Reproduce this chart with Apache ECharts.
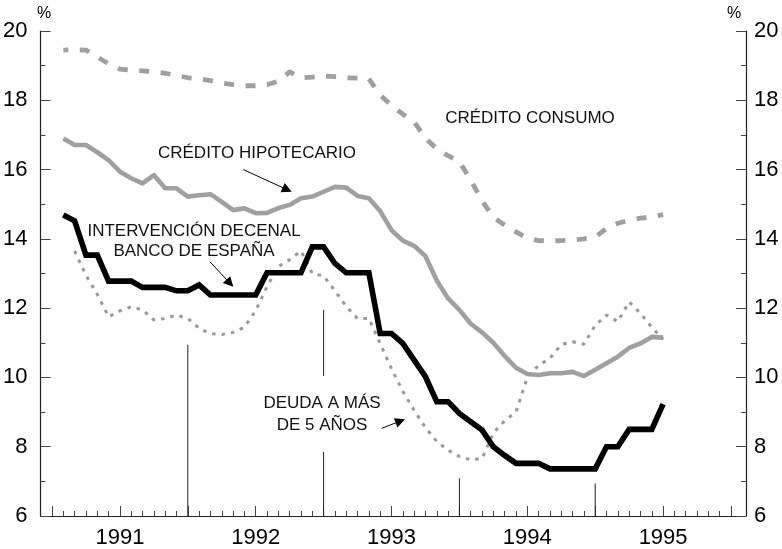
<!DOCTYPE html>
<html>
<head>
<meta charset="utf-8">
<script src="https://cdn.jsdelivr.net/npm/echarts@6/dist/echarts.min.js"></script>
<style>html,body{margin:0;padding:0;background:#fff;}#c{width:782px;height:549px;}</style>
</head>
<body>
<div id="c"></div>
<script>
// Months counted from January 1991 (0) to January 1996 (60)
const months = Array.from({length: 54}, (_, i) => i + 1);
const yearLabels = {6: '1991', 18: '1992', 30: '1993', 42: '1994', 54: '1995'};

const creditoConsumo = [19.45,19.46,19.45,19.25,19.05,18.9,18.87,18.85,18.82,18.78,18.72,18.65,18.62,18.57,18.5,18.45,18.42,18.42,18.45,18.55,18.82,18.65,18.67,18.7,18.68,18.65,18.64,18.62,18.15,17.85,17.6,17.38,16.9,16.6,16.4,16.23,15.7,15.1,14.62,14.4,14.2,14.02,13.95,13.94,13.95,13.96,14.0,14.05,14.3,14.45,14.54,14.6,14.63,14.7];

const creditoHipotecario = [16.9,16.71,16.71,16.5,16.27,15.94,15.75,15.6,15.84,15.46,15.46,15.22,15.26,15.29,15.07,14.83,14.88,14.74,14.75,14.89,14.98,15.17,15.22,15.36,15.5,15.48,15.24,15.17,14.8,14.25,13.95,13.8,13.5,12.8,12.28,11.95,11.55,11.3,11.0,10.62,10.28,10.1,10.07,10.12,10.12,10.16,10.04,10.22,10.41,10.6,10.85,10.98,11.17,11.15];

const intervencionDecenal = [14.69,14.52,13.53,13.53,12.78,12.78,12.78,12.6,12.6,12.6,12.5,12.5,12.67,12.38,12.38,12.38,12.38,12.38,13.02,13.02,13.02,13.02,13.77,13.77,13.29,13.02,13.02,13.02,11.27,11.27,10.98,10.5,10.02,9.3,9.3,8.96,8.72,8.48,8.0,7.75,7.52,7.52,7.52,7.36,7.36,7.36,7.36,7.36,8.0,8.0,8.5,8.5,8.5,9.23];

const deudaMas5 = [null,13.65,12.95,12.4,11.75,11.92,12.04,11.95,11.66,11.7,11.8,11.7,11.42,11.26,11.24,11.3,11.45,11.93,12.62,13.2,13.4,13.65,13.0,12.93,12.5,12.05,11.7,11.7,10.98,10.25,9.6,9.05,8.55,8.15,7.9,7.72,7.62,7.66,8.4,8.75,9.0,10.0,10.35,10.55,10.95,11.03,10.96,11.5,11.8,11.61,12.18,11.85,11.45,11.1];

// Year-separator lines: month, top value (they start at the axis, 6)
const separatorMonths = [12, 24, 36, 48];
const separatorTops = [10.94, 11.95, 7.09, 6.94];

const FONT = "'Liberation Sans', Arial, sans-serif";
const GRAY = '#a0a0a0';

function pairs(vals) {
  return months.map((m, i) => [m, vals[i]]).filter(d => d[1] != null);
}

const chart = echarts.init(document.getElementById('c'), null, {renderer: 'canvas'});

const yCommon = {
  type: 'value', min: 6, max: 20, interval: 2,
  axisLine: {show: true, lineStyle: {color: '#222', width: 1.2}},
  axisTick: {show: true, inside: true, length: 10, lineStyle: {color: '#444', width: 1}},
  minorTick: {show: true, splitNumber: 2, length: 5, lineStyle: {color: '#444', width: 1}},
  splitLine: {show: false},
  minorSplitLine: {show: false},
  axisLabel: {fontSize: 22, color: '#000', fontFamily: FONT}
};

const series = [
  {
    name: 'CRÉDITO CONSUMO', type: 'line', xAxisIndex: 1, yAxisIndex: 2,
    data: pairs(creditoConsumo), symbol: 'none', silent: true,
    lineStyle: {color: GRAY, width: 4.8, type: [10, 11.5], dashOffset: 5, cap: 'butt', join: 'round'},
    z: 2
  },
  {
    name: 'CRÉDITO HIPOTECARIO', type: 'line', xAxisIndex: 1, yAxisIndex: 2,
    data: pairs(creditoHipotecario), symbol: 'none', silent: true,
    lineStyle: {color: GRAY, width: 4.6, join: 'round'},
    z: 2
  },
  {
    name: 'DEUDA', type: 'line', xAxisIndex: 1, yAxisIndex: 2,
    data: pairs(deudaMas5), symbol: 'none', silent: true,
    lineStyle: {color: '#999', width: 3, type: [3.5, 6], cap: 'butt'},
    z: 2
  },
  {
    name: 'INTERVENCIÓN', type: 'line', xAxisIndex: 1, yAxisIndex: 2,
    data: pairs(intervencionDecenal), symbol: 'none', silent: true,
    lineStyle: {color: '#000', width: 5.6, join: 'miter', cap: 'butt'},
    z: 3,
    markLine: {
      silent: true, animation: false,
      symbol: ['none', 'triangle'], symbolSize: 10,
      label: {show: false},
      lineStyle: {color: '#000', width: 1, type: 'solid'},
      itemStyle: {color: '#000'},
      emphasis: {disabled: true},
      data: [
        [{coord: [16.9, 16.0]}, {coord: [20.78, 15.42]}],
        [{coord: [13.96, 13.34]}, {coord: [15.72, 12.72]}],
        [{coord: [29.13, 8.53]}, {coord: [30.78, 8.74]}]
      ]
    }
  }
];

separatorMonths.forEach((m, i) => {
  series.push({
    type: 'line', xAxisIndex: 1, yAxisIndex: 2, symbol: 'none', silent: true,
    data: [[m, 6], [m, separatorTops[i]]],
    lineStyle: {color: '#222', width: 1}, z: 1
  });
});

const textStyle = {fontSize: 17, fontFamily: FONT, fill: '#111', align: 'center', verticalAlign: 'middle'};

chart.setOption({
  animation: false,
  backgroundColor: '#fff',
  grid: [
    {left: 37, right: 36, top: 31, bottom: 33},
    {left: 52, right: 51, top: 31, bottom: 33}
  ],
  xAxis: [
    {
      gridIndex: 0, type: 'value', min: 0, max: 1,
      axisLine: {show: true, onZero: false, lineStyle: {color: '#222', width: 1.2}},
      axisTick: {show: false}, axisLabel: {show: false}, splitLine: {show: false}
    },
    {
      gridIndex: 1, type: 'value', min: 0, max: 60, interval: 6,
      axisLine: {show: false, onZero: false},
      axisTick: {show: true, inside: true, length: 10, lineStyle: {color: '#444', width: 1}},
      minorTick: {show: true, splitNumber: 6, length: 5, lineStyle: {color: '#444', width: 1}},
      splitLine: {show: false}, minorSplitLine: {show: false},
      axisLabel: {
        fontSize: 22, color: '#000', fontFamily: FONT, margin: 11,
        showMinLabel: true, showMaxLabel: true,
        formatter: v => yearLabels[v] || ''
      }
    }
  ],
  yAxis: [
    Object.assign({}, yCommon, {gridIndex: 0, position: 'left', axisLabel: Object.assign({}, yCommon.axisLabel, {margin: 13})}),
    Object.assign({}, yCommon, {gridIndex: 0, position: 'right', axisLabel: Object.assign({}, yCommon.axisLabel, {margin: 8})}),
    {gridIndex: 1, type: 'value', min: 6, max: 20, show: false, splitLine: {show: false}}
  ],
  series: series,
  graphic: [
    {type: 'text', x: 44, y: 14, style: Object.assign({}, textStyle, {text: '%', fontSize: 16, fill: '#000'})},
    {type: 'text', x: 734, y: 14, style: Object.assign({}, textStyle, {text: '%', fontSize: 16, fill: '#000'})},
    {type: 'text', x: 530, y: 118, style: Object.assign({}, textStyle, {text: 'CRÉDITO CONSUMO'})},
    {type: 'text', x: 257, y: 153, style: Object.assign({}, textStyle, {text: 'CRÉDITO HIPOTECARIO'})},
    {type: 'text', x: 194, y: 241, style: Object.assign({}, textStyle, {text: 'INTERVENCIÓN DECENAL\nBANCO DE ESPAÑA', lineHeight: 20})},
    {type: 'text', x: 322, y: 414, z: 10, style: Object.assign({}, textStyle, {text: 'DEUDA A MÁS\nDE 5 AÑOS', lineHeight: 22, backgroundColor: '#fff', padding: [16, 0]})}
  ]
});
</script>
</body>
</html>
